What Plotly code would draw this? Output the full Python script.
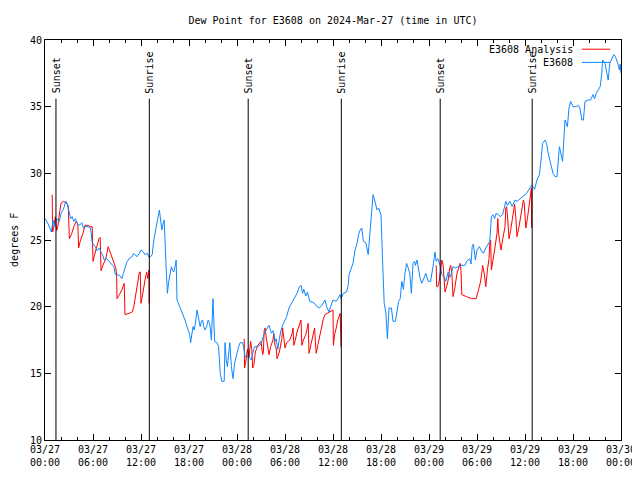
import pandas as pd
import plotly.graph_objects as go

BASE = pd.Timestamp("2024-03-27 00:00")

# Observed dew point (E3608): hours since 03/27 00:00 UTC, degrees F
obs_hours = [0.0,0.4,0.8,1.0,1.2,1.5,1.8,2.0,2.3,2.6,2.8,3.0,3.2,3.4,3.6,3.8,4.0,4.3,4.6,4.8,5.0,5.4,5.7,5.9,
             6.3,6.5,6.8,7.0,7.2,7.4,7.7,8.0,8.4,8.6,8.8,9.1,9.4,9.6,9.8,10.0,10.2,10.5,10.9,11.1,11.5,11.8,
             12.0,12.3,12.5,12.8,13.0,13.2,13.4,13.6,13.8,14.0,14.15,14.3,14.45,14.6,14.75,14.9,15.1,15.3,
             15.45,15.6,15.8,15.95,16.1,16.25,16.4,16.5,16.7,16.9,17.1,17.3,17.5,17.8,18.1,18.2,18.35,18.5,
             18.65,18.8,19.0,19.2,19.4,19.55,19.7,19.85,20.0,20.2,20.4,20.6,20.8,21.0,21.1,21.2,21.5,21.7,
             21.9,22.1,22.4,22.5,22.65,22.8,23.0,23.1,23.3,23.5,23.7,24.0,24.2,24.4,24.7,24.85,25.0,25.4,
             25.8,26.0,26.2,26.6,27.0,27.4,27.7,28.0,28.15,28.3,28.5,28.75,28.9,29.1,29.3,29.5,29.8,30.2,
             30.5,30.8,31.2,31.5,31.8,32.0,32.2,32.35,32.6,32.8,33.1,33.6,34.0,34.3,34.6,35.0,35.2,35.5,
             35.7,36.0,36.4,36.9,37.0,37.3,37.7,37.9,38.0,38.3,38.5,38.75,39.0,39.2,39.4,39.6,39.8,40.1,
             40.4,40.6,40.8,41.0,41.2,41.5,41.7,42.0,42.2,42.4,42.6,42.8,43.0,43.3,43.5,43.8,44.2,44.4,
             44.6,44.8,45.0,45.2,45.4,45.6,45.8,46.0,46.2,46.3,46.5,46.9,47.1,47.6,47.9,48.2,48.5,48.75,
             48.9,49.1,49.4,49.6,49.9,50.1,50.4,50.6,50.8,51.0,51.3,51.6,52.1,52.5,52.7,53.1,53.25,53.4,
             53.55,53.8,54.0,54.3,54.5,54.8,55.1,55.4,55.6,55.8,56.0,56.2,56.4,56.7,56.9,57.2,57.6,57.8,
             58.1,58.4,58.75,59.0,59.4,59.8,60.2,60.6,60.8,61.0,61.2,61.5,61.8,62.0,62.2,62.5,62.7,62.9,
             63.2,63.5,63.75,64.0,64.3,64.5,64.7,64.9,65.0,65.3,65.5,65.7,66.0,66.4,66.7,66.9,67.1,67.3,
             67.5,67.9,68.2,68.5,68.7,68.9,69.2,69.4,69.6,69.7,70.0,70.3,70.4,70.6,71.1,71.3,71.6,71.8,
             71.9,72.0]
obs_values = [26.6,26.2,25.6,26.5,26.0,26.6,26.4,27.0,27.3,27.9,27.7,27.25,26.6,26.75,26.4,26.6,26.25,26.1,26.3,
              25.9,26.0,26.0,25.9,24.8,24.5,24.2,24.4,24.1,23.9,23.5,23.6,23.4,23.1,23.0,22.4,22.4,22.3,22.1,
              22.5,22.9,23.3,23.6,23.75,24.0,23.75,24.0,24.25,24.1,23.9,24.0,23.7,23.75,23.9,25.0,25.6,26.1,
              26.6,27.25,26.5,25.75,26.2,26.5,23.5,21.0,21.8,22.25,23.0,22.7,22.6,23.0,23.5,20.5,20.2,20.0,
              19.7,19.25,19.0,18.4,17.9,17.3,17.9,18.5,18.25,18.75,19.75,19.0,18.5,18.9,19.0,18.5,18.25,18.5,
              19.0,18.7,17.5,20.6,18.0,17.4,17.3,17.0,15.0,14.4,14.4,17.3,16.0,15.5,16.7,17.3,15.5,14.6,
              15.75,16.6,17.0,17.3,17.3,16.9,16.25,16.3,16.0,16.6,17.0,17.0,17.2,18.0,18.3,18.6,18.3,18.0,
              18.2,17.4,17.6,16.8,17.6,18.25,18.75,19.25,19.9,20.25,20.6,21.0,21.5,21.6,21.0,21.3,20.8,21.1,
              20.4,20.3,20.0,19.9,20.1,20.5,20.0,19.6,20.0,20.5,20.4,20.9,20.6,21.0,21.1,21.6,22.4,22.9,
              23.25,24.25,24.75,25.4,25.75,25.9,24.9,24.8,23.9,25.4,27.25,28.4,28.0,27.25,27.4,26.9,23.4,
              20.25,19.6,17.6,19.9,19.9,18.9,18.9,20.4,20.6,21.9,21.3,22.5,23.25,22.9,22.5,21.0,23.25,23.4,
              23.1,23.5,22.1,21.75,22.5,21.9,21.9,23.0,24.1,23.4,23.6,23.1,22.4,22.25,21.9,22.6,22.2,22.5,
              23.0,22.9,23.0,23.1,23.1,23.4,23.6,23.2,24.5,24.7,23.5,24.25,24.5,24.25,24.0,24.4,24.75,24.9,
              26.75,26.9,26.6,27.0,26.9,26.75,26.9,27.9,27.6,27.9,27.5,28.0,27.9,28.1,28.25,28.5,28.9,29.1,
              29.0,28.8,29.5,29.9,31.0,32.25,32.5,32.25,31.5,30.75,30.0,29.75,29.75,32.0,31.4,30.9,33.0,
              34.0,33.5,34.9,35.4,35.0,35.0,35.1,34.8,34.0,34.0,35.4,35.5,35.5,35.9,35.6,36.0,36.25,36.5,
              37.5,38.5,38.25,37.4,37.0,38.25,38.9,38.75,38.25,37.75,38.2,37.5]

# Analysis dew point (E3608 Analysis): nighttime segments separated by None
ana_hours = [0.9,0.95,1.1,1.3,1.45,1.6,1.75,2.0,2.3,2.6,2.9,3.0,3.05,3.3,3.6,3.9,4.1,4.2,4.4,4.8,5.0,5.4,5.6,
             5.9,6.0,6.2,6.5,6.75,6.9,7.0,7.3,7.6,7.9,8.2,8.6,8.85,8.95,9.0,9.3,9.6,9.9,10.0,10.5,10.9,11.1,
             11.4,11.6,11.8,11.9,12.0,12.2,12.3,12.5,12.7,12.85,13.0,13.01,
             None,
             24.9,24.95,25.1,25.3,25.5,25.7,25.85,25.96,26.1,26.3,26.6,26.8,27.0,27.2,27.3,27.4,27.5,27.7,
             27.85,28.0,28.2,28.5,28.6,28.75,28.9,29.0,29.3,29.6,29.7,29.85,30.0,30.2,30.6,30.9,31.0,31.1,
             31.3,31.5,31.9,32.0,32.1,32.3,32.6,32.9,33.0,33.2,33.5,33.6,33.7,33.8,33.9,34.1,34.6,34.8,35.0,
             35.3,35.6,36.0,36.05,36.2,36.4,36.6,36.9,37.0,
             None,
             48.9,48.95,49.1,49.3,49.45,49.6,49.75,49.85,50.0,50.2,50.4,50.6,50.7,50.85,51.0,51.2,51.5,51.7,
             51.9,52.0,52.1,52.7,53.3,53.9,54.1,54.4,54.6,54.7,54.9,55.1,55.3,55.5,55.6,55.7,55.8,56.0,56.2,
             56.5,56.6,56.7,57.0,57.2,57.5,57.6,57.7,57.85,58.0,58.2,58.5,58.6,58.7,58.85,59.0,59.25,59.5,
             59.8,59.9,60.1,60.3,60.5,60.75,60.8,60.82]
ana_values = [28.4,25.6,26.0,26.75,25.7,26.0,26.75,27.75,27.9,27.8,27.6,26.4,25.1,25.4,26.0,26.4,26.2,24.4,24.9,
              25.6,26.1,26.1,26.0,26.0,23.4,23.9,24.5,25.1,25.2,22.7,23.2,23.6,24.5,24.0,23.4,22.9,22.4,20.6,
              20.9,21.25,21.75,19.4,19.5,19.6,20.0,21.1,22.0,22.6,22.6,20.25,20.9,21.4,22.0,22.6,22.1,22.75,
              20.25,
              None,
              17.6,15.4,15.9,16.8,16.2,17.4,16.8,15.4,15.6,16.6,17.1,17.25,17.4,16.4,16.6,18.25,18.4,17.5,
              16.9,16.4,17.0,17.5,18.0,17.1,16.9,16.1,16.6,17.6,18.4,17.5,16.9,17.3,17.5,18.0,18.4,17.1,17.5,
              18.1,18.9,19.0,17.1,17.5,17.9,18.75,16.5,17.1,17.9,18.1,18.4,17.4,16.5,17.1,18.6,19.1,19.4,
              19.5,19.6,19.75,17.1,17.9,18.4,19.0,19.5,17.0,
              None,
              23.1,21.5,21.5,22.0,22.75,23.5,23.2,22.5,21.1,21.5,22.0,22.9,23.1,22.6,20.75,21.3,22.5,22.9,
              23.25,22.7,20.9,20.75,20.6,20.6,21.0,21.75,22.5,23.1,22.5,21.5,22.75,23.6,24.75,25.0,22.75,
              23.4,24.25,25.5,26.6,25.5,24.25,25.0,26.0,27.4,27.5,26.5,25.1,25.7,26.9,27.6,27.7,26.7,25.25,
              26.0,27.0,28.0,27.8,25.9,26.6,27.4,28.5,28.9,25.9]

# Sun events (hours since 03/27 00:00 UTC)
sun_labels = ["Sunset", "Sunrise", "Sunset", "Sunrise", "Sunset", "Sunrise"]
sun_hours = [1.37, 13.04, 25.4, 37.04, 49.4, 60.9]


def to_time(hours):
    return [None if h is None else BASE + pd.Timedelta(hours=h) for h in hours]


RED = "#ff0000"
BLUE = "#0f87ff"
FONT = "DejaVu Sans Mono"

fig = go.Figure()
fig.add_trace(go.Scatter(x=to_time(ana_hours), y=ana_values, mode="lines", name="E3608 Analysis",
                         line=dict(color=RED, width=1), connectgaps=False, showlegend=False))
fig.add_trace(go.Scatter(x=to_time(obs_hours), y=obs_values, mode="lines", name="E3608",
                         line=dict(color=BLUE, width=1), showlegend=False))

for lab, h in zip(sun_labels, sun_hours):
    t = BASE + pd.Timedelta(hours=h)
    fig.add_shape(type="line", xref="x", yref="y", x0=t, x1=t, y0=10, y1=35.6,
                  line=dict(color="black", width=1))
    fig.add_annotation(x=t, y=35.85, xref="x", yref="y", text=lab, textangle=-90,
                       showarrow=False, xanchor="center", yanchor="bottom",
                       font=dict(family=FONT, size=10, color="black"))

# Legend (gnuplot style: text on the left, line sample on the right)
for name, color, yp in [("E3608 Analysis", RED, 0.977), ("E3608", BLUE, 0.944)]:
    fig.add_annotation(x=0.921, y=yp, xref="paper", yref="paper", text=name, showarrow=False,
                       xanchor="right", yanchor="middle", font=dict(family=FONT, size=10, color="black"))
    fig.add_shape(type="line", xref="paper", yref="paper", x0=0.932, x1=0.981, y0=yp, y1=yp,
                  line=dict(color=color, width=1))

fig.add_annotation(x=-0.054, y=0.5, xref="paper", yref="paper", text="degrees F", textangle=-90,
                   showarrow=False, xanchor="center", yanchor="middle",
                   font=dict(family=FONT, size=10, color="black"))

# The page body adds an 8px offset; size the figure so the plot box lands at 45..621 x 40..440
fig.update_layout(
    width=632, height=472,
    margin=dict(l=37, r=19, t=32, b=40, autoexpand=False),
    paper_bgcolor="white", plot_bgcolor="white",
    font=dict(family=FONT, size=10, color="black"),
    title=dict(text="Dew Point for E3608 on 2024-Mar-27 (time in UTC)", x=0.5, xref="paper",
               xanchor="center", y=1 - 12 / 472, yanchor="middle",
               font=dict(family=FONT, size=10, color="black")),
    xaxis=dict(type="date", range=[BASE, BASE + pd.Timedelta(hours=72)], automargin=False,
               showgrid=False, zeroline=False, showline=True, linecolor="black", linewidth=1,
               mirror="allticks", ticks="inside", ticklen=6, tickcolor="black", tickwidth=1,
               tick0=BASE, dtick=6 * 3600 * 1000, tickformat="%m/%d<br>%H:%M",
               minor=dict(dtick=2 * 3600 * 1000, ticklen=3, ticks="inside", tickcolor="black",
                          showgrid=False),
               tickfont=dict(family=FONT, size=10, color="black")),
    yaxis=dict(range=[10, 40], dtick=5, tick0=10, showgrid=False, zeroline=False, showline=True,
               automargin=False,
               linecolor="black", linewidth=1, mirror="allticks", ticks="inside", ticklen=6,
               tickcolor="black", tickwidth=1, tickfont=dict(family=FONT, size=10, color="black")),
)

fig.write_html("out.html")
